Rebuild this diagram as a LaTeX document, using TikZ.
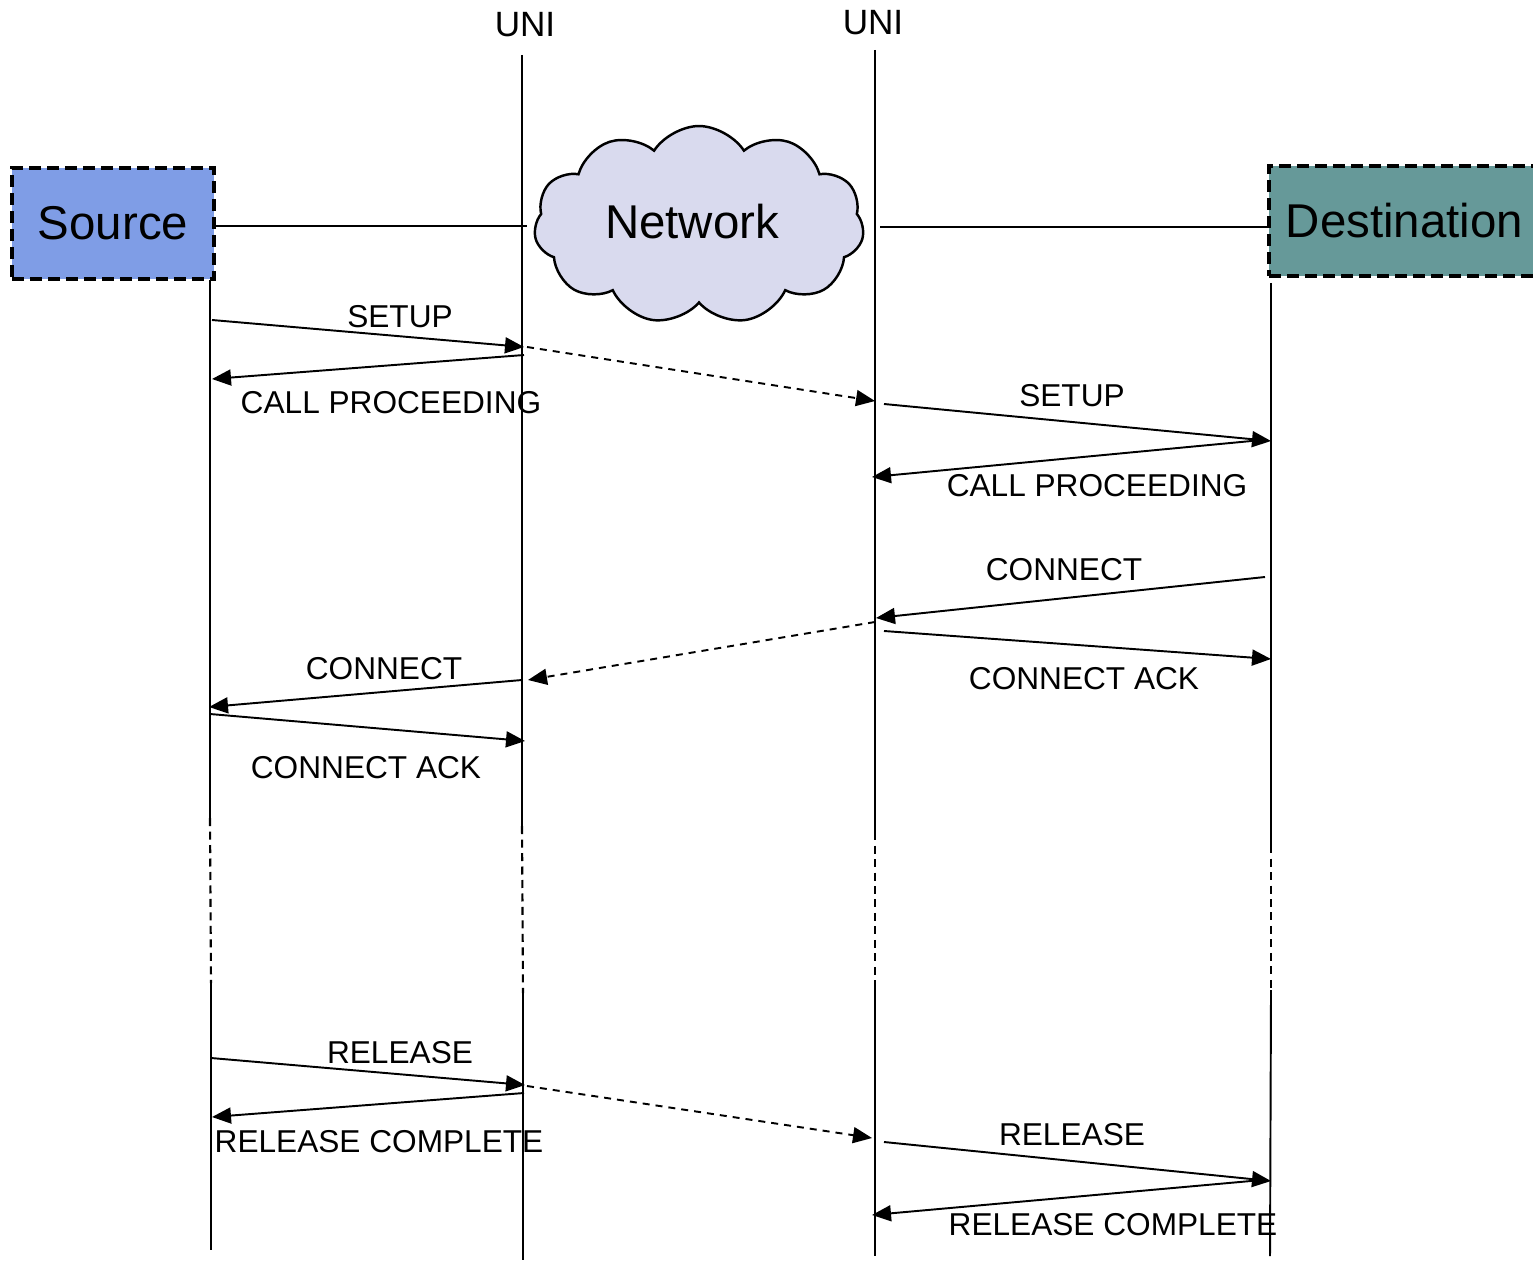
\documentclass[tikz,border=0pt]{standalone}
\usepackage{fontspec}
\setmainfont{Liberation Sans}
\usetikzlibrary{arrows.meta,shapes.symbols}
\definecolor{srcfill}{RGB}{127,157,230}
\definecolor{dstfill}{RGB}{102,153,153}
\definecolor{cloudfill}{RGB}{217,218,238}
\begin{document}
\begin{tikzpicture}[x=0.02cm,y=-0.02cm,
  lbl/.style={inner sep=0pt, font=\fontsize{18}{20}\selectfont},
  unilbl/.style={inner sep=0pt, font=\fontsize{20}{24}\selectfont},
  life/.style={line width=1.1pt},
  lifedash/.style={line width=1.2pt, dash pattern=on 0.16cm off 0.11cm},
  msg/.style={line width=1.1pt, -{Triangle[length=0.38cm,width=0.32cm]}},
  relay/.style={msg, dash pattern=on 0.14cm off 0.12cm},
  party/.style={draw, line width=2.2pt, dash pattern=on 0.24cm off 0.12cm, inner sep=0pt, font=\fontsize{27}{30}\selectfont},
]
\clip (0,0) rectangle (1533,1260);

% parties and network
\node[party, fill=srcfill, minimum width=4.04cm, minimum height=2.22cm] (src) at (113,223.5) {Source};
\node[party, fill=dstfill, minimum width=5.42cm, minimum height=2.2cm] (dst) at (1404.5,221) {Destination};
\node[cloud, draw, fill=cloudfill, line width=1.4pt, cloud puffs=11, cloud puff arc=115, aspect=1.66,
      minimum width=6.6cm, minimum height=3.96cm, inner sep=0pt] (net) at (699,225) {};
\node[inner sep=0pt, font=\fontsize{27}{30}\selectfont] (nettxt) at (692,222) {Network};

\node[unilbl] (uni1) at (525,25) {UNI};
\node[unilbl] (uni2) at (873,23) {UNI};

% access links
\coordinate (na) at (527,226);
\coordinate (nb) at (880,227);
\draw[life] (src.east |- na) -- (na);
\draw[life] (nb) -- (dst.west |- nb);

% lifelines
\coordinate (s0) at (210,280);  \coordinate (s1) at (210,818);  \coordinate (s2) at (211,983);  \coordinate (s3) at (211,1250);
\coordinate (a0) at (522,55);   \coordinate (a1) at (522,826);  \coordinate (a2) at (523,993);  \coordinate (a3) at (523,1260);
\coordinate (b0) at (875,50);   \coordinate (b1) at (875,832);  \coordinate (b2) at (875,988);  \coordinate (b3) at (875,1256);
\coordinate (d0) at (1271,283); \coordinate (d1) at (1271,845); \coordinate (d2) at (1271,990); \coordinate (d3) at (1270,1256);
\foreach \l in {s,a,b,d}{
  \draw[life] (\l0) -- (\l1);
  \draw[lifedash] (\l1) -- (\l2);
  \draw[life] (\l2) -- (\l3);
}

% message end points
\coordinate (m1a) at (212,320);  \coordinate (m1b) at (524,347);
\coordinate (m2a) at (524,355);  \coordinate (m2b) at (212,379);
\coordinate (m3a) at (527,347);  \coordinate (m3b) at (875,401);
\coordinate (m4a) at (884,404);  \coordinate (m4b) at (1271,441);
\coordinate (m5a) at (1262,440); \coordinate (m5b) at (872,477);
\coordinate (m6a) at (1265,577); \coordinate (m6b) at (876,618);
\coordinate (m7a) at (875,622);  \coordinate (m7b) at (528,680);
\coordinate (m8a) at (884,631);  \coordinate (m8b) at (1271,659);
\coordinate (m9a) at (522,680);  \coordinate (m9b) at (209,707);
\coordinate (m10a) at (210,714); \coordinate (m10b) at (525,741);
\coordinate (m11a) at (211,1058); \coordinate (m11b) at (525,1085);
\coordinate (m12a) at (524,1093); \coordinate (m12b) at (212,1117);
\coordinate (m13a) at (527,1086); \coordinate (m13b) at (872,1138);
\coordinate (m14a) at (884,1142); \coordinate (m14b) at (1271,1181);
\coordinate (m15a) at (1262,1180); \coordinate (m15b) at (872,1215);

\draw[msg] (m1a) -- (m1b);
\draw[msg] (m2a) -- (m2b);
\draw[relay] (m3a) -- (m3b);
\draw[msg] (m4a) -- (m4b);
\draw[msg] (m5a) -- (m5b);
\draw[msg] (m6a) -- (m6b);
\draw[relay] (m7a) -- (m7b);
\draw[msg] (m8a) -- (m8b);
\draw[msg] (m9a) -- (m9b);
\draw[msg] (m10a) -- (m10b);
\draw[msg] (m11a) -- (m11b);
\draw[msg] (m12a) -- (m12b);
\draw[relay] (m13a) -- (m13b);
\draw[msg] (m14a) -- (m14b);
\draw[msg] (m15a) -- (m15b);

% labels
\node[lbl] (l1) at (400,317) {SETUP};
\node[lbl] (l2) at (391,403) {CALL PROCEEDING};
\node[lbl] (l4) at (1072,396) {SETUP};
\node[lbl] (l5) at (1097,486) {CALL PROCEEDING};
\node[lbl] (l6) at (1064,570) {CONNECT};
\node[lbl] (l8) at (1084,679) {CONNECT ACK};
\node[lbl] (l9) at (384,669) {CONNECT};
\node[lbl] (l10) at (366,768) {CONNECT ACK};
\node[lbl] (l11) at (400,1053) {RELEASE};
\node[lbl] (l12) at (379,1142) {RELEASE COMPLETE};
\node[lbl] (l14) at (1072,1135) {RELEASE};
\node[lbl] (l15) at (1113,1225) {RELEASE COMPLETE};
\end{tikzpicture}
\end{document}
